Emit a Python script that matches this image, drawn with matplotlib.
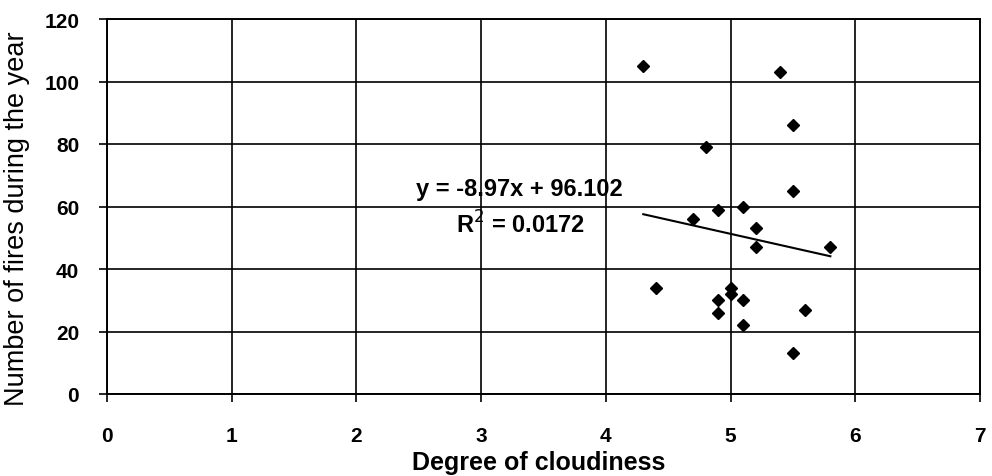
import matplotlib
matplotlib.use("Agg")
import matplotlib.pyplot as plt
import numpy as np

# Cloudiness vs. yearly fire counts
cloudiness = [4.3, 5.4, 5.5, 4.8, 5.5, 4.9, 5.1, 4.7, 5.2, 5.2,
              5.8, 4.4, 5.0, 5.0, 4.9, 5.1, 4.9, 5.1, 5.6, 5.5]
fires = [105, 103, 86, 79, 65, 59, 60, 56, 53, 47,
         47, 34, 34, 32, 30, 30, 26, 22, 27, 13]

# Linear trend reported on the chart
slope = -8.97
intercept = 96.102
r_squared = 0.0172

x_ticks = [0, 1, 2, 3, 4, 5, 6, 7]
y_ticks = [0, 20, 40, 60, 80, 100, 120]

plt.rcParams['font.family'] = ['Liberation Sans', 'DejaVu Sans']

fig = plt.figure(figsize=(9.92, 4.77), dpi=100)
ax = fig.add_axes([107 / 992, 1 - 395 / 477, (980 - 107) / 992, (395 - 20) / 477])

ax.set_xlim(x_ticks[0], x_ticks[-1])
ax.set_ylim(y_ticks[0], y_ticks[-1])
ax.set_xticks(x_ticks)
ax.set_yticks(y_ticks)

ax.grid(True, color='black', linewidth=1.2)
ax.set_axisbelow(True)
for side in ['top', 'right', 'left', 'bottom']:
    ax.spines[side].set_color('black')
    ax.spines[side].set_linewidth(1.4)

ax.tick_params(axis='both', direction='out', length=6, width=1.2, color='black',
               labelsize=15)
ax.tick_params(axis='x', pad=17)
ax.tick_params(axis='y', pad=14)
for lbl in ax.get_xticklabels() + ax.get_yticklabels():
    lbl.set_fontweight('bold')

# Scatter points
ax.plot(cloudiness, fires, linestyle='none', marker='D', markersize=6.4,
        color='black', zorder=3, clip_on=False)

# Trend line over the data range
x_line = np.array([min(cloudiness), max(cloudiness)])
ax.plot(x_line, slope * x_line + intercept, color='black', linewidth=1.5, zorder=3)

ax.text(3.31, 65.8, f"y = {slope}x + {intercept}", ha='center', va='center',
        fontsize=17, fontweight='bold', zorder=4)
ax.text(3.31, 54.5, f"R$^{{2}}$ = {r_squared}", ha='center', va='center',
        fontsize=17, fontweight='bold', zorder=4)

ax.set_xlabel("Degree of cloudiness", fontsize=18, fontweight='bold')
ax.set_ylabel("Number of fires during the year", fontsize=19.5)
ax.xaxis.set_label_coords(0.494, -0.15)
ax.yaxis.set_label_coords(-0.088, 0.47)

fig.savefig("out.png", dpi=100)
